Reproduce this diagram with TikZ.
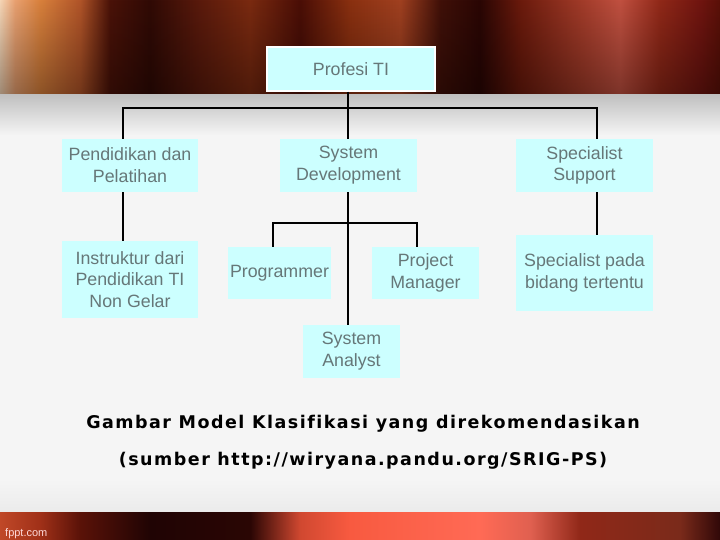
\documentclass[tikz,border=0pt]{standalone}
\usepackage{fontspec}
\setmainfont{Liberation Sans}
\newfontfamily\capfont[LetterSpace=8.5,Ligatures=NoCommon]{DejaVu Sans}
\usetikzlibrary{fadings}
\definecolor{boxc}{HTML}{CCFFFF}
\definecolor{tx}{HTML}{667778}
\definecolor{t0}{HTML}{F5D5B5}\definecolor{t1}{HTML}{E8A070}\definecolor{t2}{HTML}{D8803C}
\definecolor{t3}{HTML}{B05428}\definecolor{t4}{HTML}{4A1208}\definecolor{t5}{HTML}{300A05}
\definecolor{t6}{HTML}{5A1A0C}\definecolor{t7}{HTML}{7A2A10}\definecolor{t8}{HTML}{4A0E06}
\definecolor{t9}{HTML}{8A3010}\definecolor{t10}{HTML}{A04020}\definecolor{t11}{HTML}{401008}
\definecolor{t12}{HTML}{2A0604}\definecolor{t13}{HTML}{6A1A0C}\definecolor{t14}{HTML}{A03A28}
\definecolor{t15}{HTML}{C05040}\definecolor{t16}{HTML}{902818}\definecolor{t17}{HTML}{701510}
\definecolor{t18}{HTML}{5A1008}
\definecolor{b0}{HTML}{C04828}\definecolor{b1}{HTML}{A03018}\definecolor{b2}{HTML}{5A1208}
\definecolor{b3}{HTML}{200404}\definecolor{b4}{HTML}{2A0604}\definecolor{b5}{HTML}{D04830}
\definecolor{b6}{HTML}{F85A40}\definecolor{b7}{HTML}{FF6A55}\definecolor{b8}{HTML}{E06050}
\definecolor{b9}{HTML}{902818}\definecolor{b10}{HTML}{7A2A1A}\definecolor{b11}{HTML}{300808}
\pgfdeclarehorizontalshading{topband}{100bp}{color(0bp)=(t0); color(25bp)=(t0); color(26.04bp)=(t1);
 color(27.78bp)=(t2); color(30.56bp)=(t3); color(32.64bp)=(t4); color(35.42bp)=(t5);
 color(38.89bp)=(t6); color(42.36bp)=(t7); color(45.83bp)=(t8); color(49.31bp)=(t9);
 color(52.78bp)=(t10); color(55.56bp)=(t11); color(58.33bp)=(t12); color(61.11bp)=(t13);
 color(65.28bp)=(t14); color(68.06bp)=(t15); color(70.83bp)=(t16); color(73.61bp)=(t17);
 color(75bp)=(t18); color(100bp)=(t18)}
\pgfdeclarehorizontalshading{botband}{100bp}{color(0bp)=(b0); color(25bp)=(b0); color(27.78bp)=(b1);
 color(30.56bp)=(b2); color(35.42bp)=(b3); color(42.36bp)=(b4); color(45.83bp)=(b5);
 color(49.31bp)=(b6); color(58.33bp)=(b7); color(61.81bp)=(b8); color(65.28bp)=(b9);
 color(72.22bp)=(b10); color(75bp)=(b11); color(100bp)=(b11)}
\tikzset{
  box/.style={fill=boxc, text=tx, align=center, inner sep=0pt,
    font=\fontsize{17.8}{21.8}\selectfont},
  conn/.style={draw=black, line width=1.2pt},
  captext/.style={font=\capfont\bfseries\fontsize{17.5}{20}\selectfont, text=black}
}
\begin{document}
\begin{tikzpicture}[x=1pt,y=1pt]
\useasboundingbox (0,0) rectangle (720,540);
% background
\fill[white!96!black] (0,0) rectangle (720,540);
\shade[top color=white!75!black, bottom color=white!96!black] (0,405) rectangle (720,446);
\shade[top color=white!96!black, bottom color=white!92!black] (0,27) rectangle (720,60);
\shade[shading=topband] (0,446) rectangle (720,540);
\fill[black, opacity=0.35, path fading=north] (0,446) rectangle (720,540);
\shade[shading=botband] (0,0) rectangle (720,27);
\node[anchor=base west, text=white!85!red, inner sep=0pt, font=\fontsize{11}{12}\selectfont] (fp) at (5,3) {fppt.com};
% nodes
\node[box, draw=white, line width=1.5pt, minimum width=168pt, minimum height=44pt] (prof) at (351,471) {Profesi TI};
\node[box, minimum width=136pt, minimum height=53pt] (pend) at (130,374.5) {Pendidikan dan\\Pelatihan};
\node[box, minimum width=137pt, minimum height=53pt] (sd) at (348.5,374.5) {System\\Development};
\node[box, minimum width=137pt, minimum height=53pt] (spec) at (584.5,374.5) {Specialist\\Support};
\node[box, minimum width=136pt, minimum height=77pt] (inst) at (130,260.5) {Instruktur dari\\Pendidikan TI\\Non Gelar};
\node[box, minimum width=103pt, minimum height=52pt] (prog) at (279.5,267) {Programmer};
\node[box, minimum width=107pt, minimum height=52pt] (pm) at (425.5,267) {Project\\Manager};
\node[box, minimum width=137pt, minimum height=76pt] (pada) at (584.5,267) {Specialist pada\\bidang tertentu};
\node[box, minimum width=97pt, minimum height=53pt] (sa) at (351.5,188.5) {System\\Analyst};
% connectors
\coordinate (bus) at (348,432);
\coordinate (br) at (348,317);
\draw[conn] (prof.south -| bus) -- (bus);
\draw[conn] ([xshift=-7pt]pend.north) |- (bus) -| ([xshift=12.5pt]spec.north);
\draw[conn] (bus) -- (sd.north -| bus);
\draw[conn] ([xshift=-7pt]pend.south) -- ([xshift=-7pt]inst.north);
\draw[conn] ([xshift=12.5pt]spec.south) -- ([xshift=12.5pt]pada.north);
\draw[conn] (sd.south -| bus) -- (sa.north -| bus);
\draw[conn] ([xshift=-6.5pt]prog.north) |- (br) -| ([xshift=-8.5pt]pm.north);
% caption
\node[captext] (c1) at (363,116) {Gambar Model Klasifikasi yang direkomendasikan};
\node[captext] (c2) at (363,79) {(sumber http://wiryana.pandu.org/SRIG-PS)};
\end{tikzpicture}
\end{document}
